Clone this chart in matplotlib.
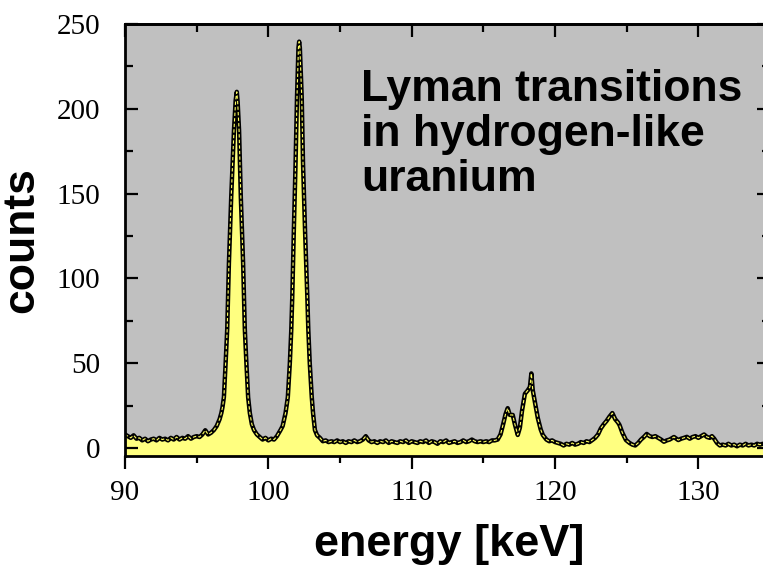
import matplotlib
matplotlib.use('Agg')
import matplotlib.pyplot as plt
from matplotlib.ticker import MultipleLocator

# Спектр: энергия (кэВ) и число отсчётов
energy_kev = [
    90.0, 90.2, 90.4, 90.6, 90.8, 91.0, 91.2, 91.4, 91.6, 91.8,
    92.0, 92.2, 92.4, 92.6, 92.8, 93.0, 93.2, 93.4, 93.6, 93.8,
    94.0, 94.2, 94.4, 94.6, 94.8, 95.0, 95.2, 95.4, 95.6, 95.8,
    96.0, 96.2, 96.4, 96.6, 96.72, 96.8, 96.9, 97.02, 97.13, 97.25,
    97.41, 97.6, 97.72, 97.8, 97.86, 97.96, 98.08, 98.24, 98.36, 98.47,
    98.59, 98.71, 98.85, 99.0, 99.2, 99.4, 99.6, 99.8, 100.0, 100.2,
    100.4, 100.6, 100.85, 101.0, 101.2, 101.36, 101.5, 101.6, 101.67, 101.78,
    101.9, 102.0, 102.1, 102.15, 102.2, 102.33, 102.42, 102.56, 102.72, 102.79,
    102.89, 103.03, 103.12, 103.25, 103.4, 103.6, 103.8, 104.0, 104.2, 104.4,
    104.6, 104.8, 105.0, 105.2, 105.4, 105.6, 105.8, 106.0, 106.2, 106.4,
    106.6, 106.8, 107.0, 107.2, 107.4, 107.6, 107.8, 108.0, 108.2, 108.4,
    108.6, 108.8, 109.0, 109.2, 109.4, 109.6, 109.8, 110.0, 110.2, 110.4,
    110.6, 110.8, 111.0, 111.2, 111.4, 111.6, 111.8, 112.0, 112.2, 112.4,
    112.6, 112.8, 113.0, 113.2, 113.4, 113.6, 113.8, 114.0, 114.2, 114.4,
    114.6, 114.8, 115.0, 115.2, 115.4, 115.6, 115.8, 116.0, 116.2, 116.4,
    116.55, 116.7, 116.85, 117.05, 117.2, 117.4, 117.55, 117.7, 117.9, 118.1,
    118.25, 118.35, 118.45, 118.6, 118.8, 119.0, 119.15, 119.4, 119.6, 119.8,
    120.0, 120.2, 120.4, 120.6, 120.8, 121.0, 121.2, 121.4, 121.6, 121.8,
    122.0, 122.2, 122.4, 122.6, 122.8, 123.0, 123.2, 123.4, 123.6, 123.8,
    124.0, 124.2, 124.4, 124.5, 124.7, 124.95, 125.2, 125.4, 125.6, 125.8,
    126.0, 126.2, 126.4, 126.6, 126.8, 127.0, 127.2, 127.4, 127.6, 127.8,
    128.0, 128.3, 128.6, 128.8, 129.0, 129.2, 129.4, 129.6, 129.8, 130.0,
    130.2, 130.4, 130.6, 130.8, 130.95, 131.1, 131.3, 131.5, 131.7, 131.9,
    132.1, 132.3, 132.5, 132.7, 132.9, 133.1, 133.3, 133.5, 133.7, 133.9,
    134.1, 134.3, 134.5, 134.7, 134.9, 135.0,
]
counts = [
    8, 7, 6, 7.5, 5.5, 6, 4.5, 5.5, 4, 5,
    5.5, 4.5, 6, 5, 5.5, 4.5, 6, 5, 6.5, 5,
    6, 5.5, 7, 5.5, 6.5, 7, 6.5, 8, 10.5, 8,
    9, 10.6, 13, 17, 20.6, 24, 30, 50, 70, 109,
    148, 187, 205, 210, 204, 187, 148, 109, 70, 50,
    30, 20.6, 14, 10.6, 8, 6.5, 5, 6, 4.5, 5.5,
    5, 7, 10.6, 13, 20.6, 30, 50, 69.6, 89, 128.5,
    168, 207, 236, 239.6, 236, 207, 168, 128.5, 89, 69.6,
    50, 30, 20.6, 10.6, 7.5, 6, 4, 4.5, 3.5, 4,
    3.5, 4.5, 3.5, 4, 3, 4, 3.5, 4.5, 3.5, 4,
    5, 7, 4.5, 3.5, 4, 3, 4, 3.5, 4.5, 3,
    4, 3.5, 3, 4, 3.5, 4.5, 3, 4, 3.5, 3,
    4, 3.5, 4.5, 3, 4, 3.5, 2.5, 4, 3.5, 4.5,
    3, 3.5, 4, 3, 3.5, 4.5, 3.5, 4, 5, 4,
    3.5, 4, 3.5, 4, 3.5, 4.5, 4.5, 5, 8, 14.6,
    20, 23.5, 19.5, 19.5, 14, 7.7, 12, 22, 32, 34,
    36, 44, 34, 27, 17.7, 11, 7.7, 5, 4, 4.5,
    3.5, 3, 2.5, 1.5, 2.5, 2, 3, 2, 2.5, 3.5,
    3, 4, 3.5, 4.7, 6, 8, 11.6, 14, 16, 18.5,
    20.6, 17, 15, 13.6, 9, 4.7, 3, 2, 1.5, 3,
    5, 6.5, 8.3, 7, 6.5, 7, 6, 5, 3.7, 4.5,
    5, 6.5, 4.7, 5.5, 6, 6.6, 5.5, 6.5, 7, 6,
    7, 8, 6.5, 6, 7, 5.6, 3, 1.5, 2, 1.5,
    2.5, 1.5, 2, 1, 2, 1.5, 2.5, 1.5, 2, 1.5,
    2.5, 2, 2.5, 2, 2.5, 2,
]
title_lines = ['Lyman transitions', 'in hydrogen-like', 'uranium']

fig = plt.figure(figsize=(7.63, 5.65), dpi=100)
ax = fig.add_axes([125 / 763, 109 / 565, 645 / 763, 432 / 565])
ax.set_facecolor('#c0c0c0')

ax.fill_between(energy_kev, counts, -10, color='#ffff80', lw=0)
ax.plot(energy_kev, counts, color='black', lw=3.2, solid_joinstyle='round')
ax.plot(energy_kev, counts, color='#ffff60', lw=0.8, dashes=(3, 2))

ax.set_xlim(90, 135)
ax.set_ylim(-4.7, 250)
ax.xaxis.set_major_locator(MultipleLocator(10))
ax.xaxis.set_minor_locator(MultipleLocator(5))
ax.yaxis.set_major_locator(MultipleLocator(50))
ax.yaxis.set_minor_locator(MultipleLocator(25))

for s in ax.spines.values():
    s.set_linewidth(2)

ax.tick_params(axis='x', which='both', direction='out', width=1.6, pad=8,
               labelsize=21)
ax.tick_params(axis='x', which='major', length=9.5)
ax.tick_params(axis='x', which='minor', length=5)
ax.tick_params(axis='y', which='both', direction='in', right=True, width=1.6,
               pad=18, labelsize=21)
ax.tick_params(axis='y', which='major', length=9.5)
ax.tick_params(axis='y', which='minor', length=5.5)
for lab in ax.get_xticklabels() + ax.get_yticklabels():
    lab.set_family('Liberation Serif')

# верхняя ось - тики внутрь
top = ax.secondary_xaxis('top')
top.xaxis.set_major_locator(MultipleLocator(10))
top.xaxis.set_minor_locator(MultipleLocator(5))
top.tick_params(which='both', direction='in', width=1.6, labeltop=False)
top.tick_params(which='major', length=9.5)
top.tick_params(which='minor', length=5.5)
top.spines['top'].set_linewidth(2)

# подписи осей
fig.text(449 / 763, 1 - 556 / 565, 'energy [keV]', ha='center', va='baseline',
         fontsize=32.5, fontweight='bold', family='Liberation Sans')
fig.text(22 / 763, 1 - 240 / 565, 'counts', ha='center', va='center',
         rotation=90, fontsize=32, fontweight='bold', family='Liberation Sans')

for i, line in enumerate(title_lines):
    fig.text(361 / 763, 1 - (101 + 45 * i) / 565, line, ha='left',
             va='baseline', fontsize=32, fontweight='bold',
             family='Liberation Sans')

fig.savefig('out.png', dpi=100)
